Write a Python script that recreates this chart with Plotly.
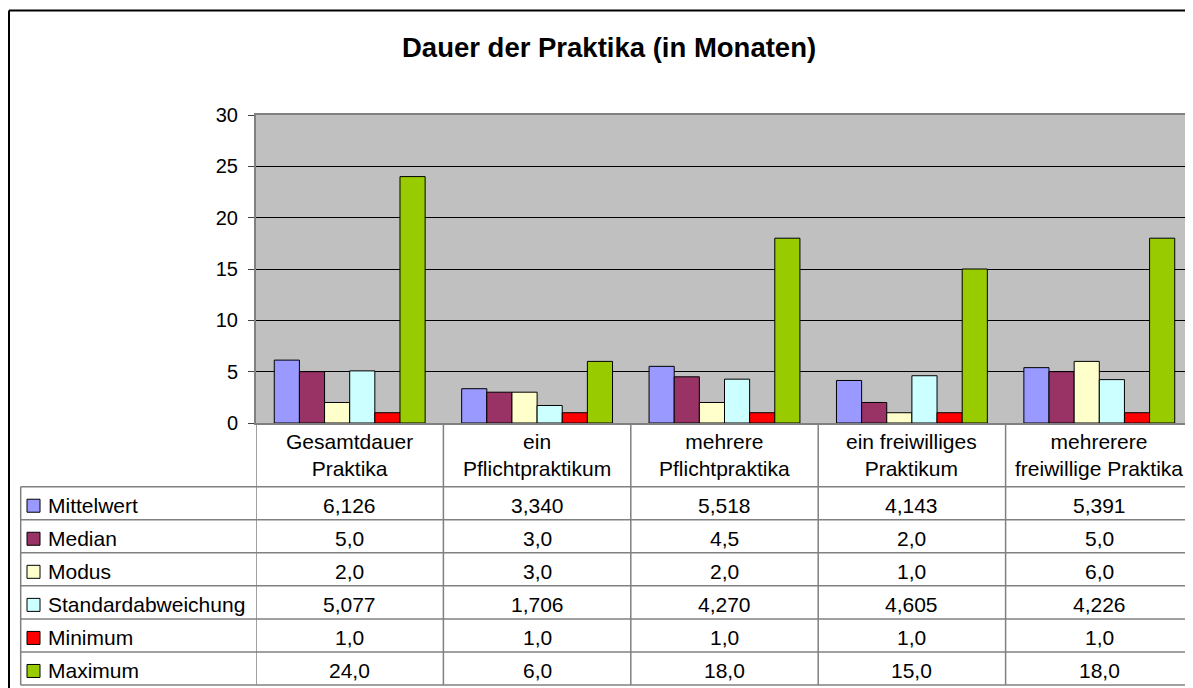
import plotly.graph_objects as go

# ---------------- data ----------------
categories = [
    "Gesamtdauer Praktika",
    "ein Pflichtpraktikum",
    "mehrere Pflichtpraktika",
    "ein freiwilliges Praktikum",
    "mehrerere freiwillige Praktika",
]
category_labels = [
    "Gesamtdauer<br>Praktika",
    "ein<br>Pflichtpraktikum",
    "mehrere<br>Pflichtpraktika",
    "ein freiwilliges<br>Praktikum",
    "mehrerere<br>freiwillige Praktika",
]
series_names = ["Mittelwert", "Median", "Modus", "Standardabweichung", "Minimum", "Maximum"]
mittelwert = [6.126, 3.340, 5.518, 4.143, 5.391]
median = [5.0, 3.0, 4.5, 2.0, 5.0]
modus = [2.0, 3.0, 2.0, 1.0, 6.0]
standardabweichung = [5.077, 1.706, 4.270, 4.605, 4.226]
minimum = [1.0, 1.0, 1.0, 1.0, 1.0]
maximum = [24.0, 6.0, 18.0, 15.0, 18.0]
series_values = [mittelwert, median, modus, standardabweichung, minimum, maximum]
series_decimals = [3, 1, 1, 3, 1, 1]
series_colors = ["#9999FF", "#993366", "#FFFFCC", "#CCFFFF", "#FF0000", "#99CC00"]
y_ticks = [0, 5, 10, 15, 20, 25, 30]
title_text = "Dauer der Praktika (in Monaten)"

# ---------------- geometry (page pixels; body has an 8px margin) ----------------
OFF = 8
FW, FH = 1185, 680
PLOT_L, PLOT_R, PLOT_T, PLOT_B = 256, 1193, 115, 423
TABLE_L = 20.7
ROW_TOP = 486.7
ROW_BOTTOM = 685.0
ROW_H = (ROW_BOTTOM - ROW_TOP) / 6
FONT = "Liberation Sans, Arial, sans-serif"
FS = 21


def px(x):
    return (x - OFF) / FW


def py(y):
    return 1 - (y - OFF) / FH


fig = go.Figure()
for name, vals, col in zip(series_names, series_values, series_colors):
    fig.add_trace(go.Bar(
        x=categories, y=vals, name=name,
        marker=dict(color=col, line=dict(color="#000000", width=1)),
        hoverinfo="x+y+name",
    ))

shapes = []
annotations = []

# outer frame (left + top visible)
shapes.append(dict(type="line", xref="paper", yref="paper", x0=px(9), x1=px(9), y0=py(10.5), y1=py(700),
                   line=dict(color="#000000", width=2)))
shapes.append(dict(type="line", xref="paper", yref="paper", x0=px(9), x1=1.01, y0=py(10.5), y1=py(10.5),
                   line=dict(color="#000000", width=2)))

grid_col = "#808080"
# vertical category separators (header + table)
for i in range(len(categories) + 1):
    shapes.append(dict(type="line", xref="x", yref="paper", x0=i - 0.5, x1=i - 0.5,
                       y0=py(PLOT_B), y1=py(ROW_BOTTOM), line=dict(color=grid_col, width=1.5)))
# table left border
shapes.append(dict(type="line", xref="paper", yref="paper", x0=px(TABLE_L), x1=px(TABLE_L),
                   y0=py(ROW_TOP), y1=py(ROW_BOTTOM), line=dict(color=grid_col, width=1.5)))
# horizontal row lines
for r in range(7):
    yy = ROW_TOP + r * ROW_H
    shapes.append(dict(type="line", xref="paper", yref="paper", x0=px(TABLE_L), x1=1.0,
                       y0=py(yy), y1=py(yy), line=dict(color=grid_col, width=1.5)))

# category header labels
for cat, lab in zip(categories, category_labels):
    annotations.append(dict(x=cat, xref="x", y=py(455), yref="paper", text=lab, showarrow=False,
                            xanchor="center", yanchor="middle", align="center",
                            font=dict(family=FONT, size=FS, color="#000000")))

# table rows
for r, (name, vals, dec, col) in enumerate(zip(series_names, series_values, series_decimals, series_colors)):
    yc = ROW_TOP + (r + 0.5) * ROW_H + 2.5
    # legend key
    shapes.append(dict(type="rect", xref="paper", yref="paper", x0=px(27), x1=px(40),
                       y0=py(yc - 6.5), y1=py(yc + 6.5), fillcolor=col,
                       line=dict(color="#000000", width=1)))
    annotations.append(dict(x=px(46), xref="paper", y=py(yc), yref="paper", text=name, showarrow=False,
                            xanchor="left", yanchor="middle",
                            font=dict(family=FONT, size=FS, color="#000000")))
    for cat, v in zip(categories, vals):
        txt = f"{v:.{dec}f}".replace(".", ",")
        annotations.append(dict(x=cat, xref="x", y=py(yc), yref="paper", text=txt, showarrow=False,
                                xanchor="center", yanchor="middle",
                                font=dict(family=FONT, size=FS, color="#000000")))

# title
annotations.append(dict(x=px(609), xref="paper", y=py(47), yref="paper", text="<b>" + title_text + "</b>",
                        showarrow=False, xanchor="center", yanchor="middle",
                        font=dict(family=FONT, size=27.5, color="#000000")))

fig.update_layout(
    template="none",
    width=FW, height=FH,
    autosize=False,
    margin=dict(l=0, r=0, t=0, b=0, pad=0, autoexpand=False),
    paper_bgcolor="#FFFFFF",
    plot_bgcolor="#C0C0C0",
    barmode="group",
    bargap=0.195,
    bargroupgap=0,
    showlegend=False,
    shapes=shapes,
    annotations=annotations,
    font=dict(family=FONT, size=FS, color="#000000"),
    xaxis=dict(
        type="category",
        automargin=False,
        domain=[px(PLOT_L), px(PLOT_R)],
        range=[-0.5, len(categories) - 0.5],
        showticklabels=False, ticks="", showgrid=False,
        showline=True, linecolor="#808080", linewidth=2, mirror=True,
        zeroline=False,
    ),
    yaxis=dict(
        automargin=False,
        domain=[py(PLOT_B), py(PLOT_T)],
        range=[0, 30],
        tickvals=y_ticks,
        ticks="outside", ticklen=6, tickcolor="#404040", tickwidth=1,
        showgrid=True, gridcolor="#000000", gridwidth=1,
        showline=True, linecolor="#808080", linewidth=2, mirror=True,
        zeroline=True, zerolinecolor="#000000", zerolinewidth=1,
        tickfont=dict(family=FONT, size=20, color="#000000"),
        ticklabelstandoff=6,
    ),
)

fig.write_html("out.html")
